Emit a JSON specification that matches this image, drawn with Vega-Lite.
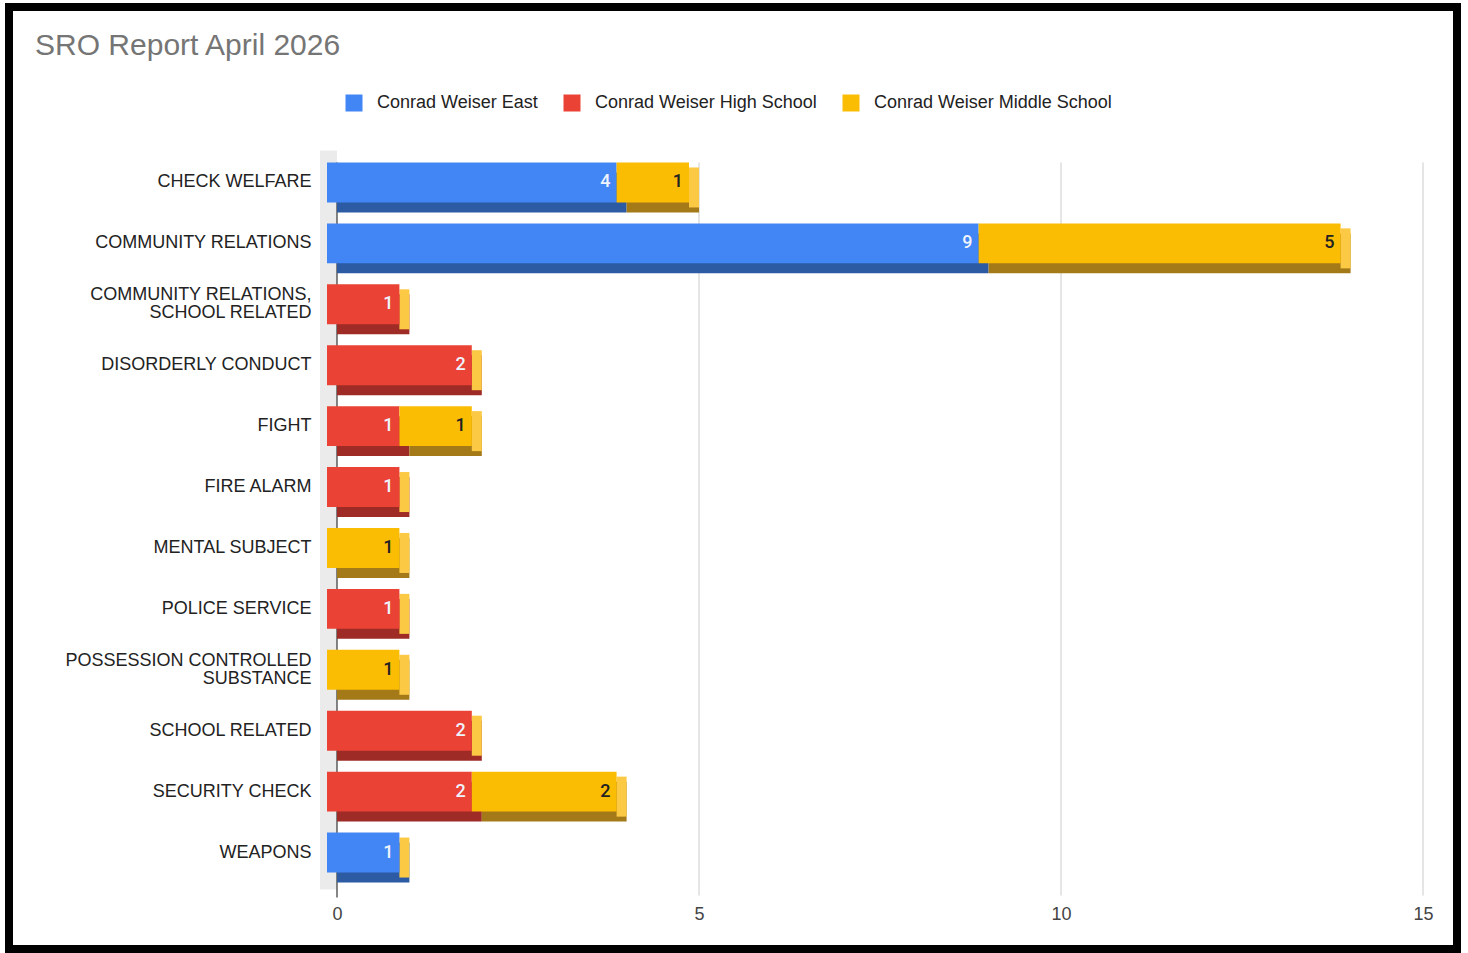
{
  "$schema": "https://vega.github.io/schema/vega-lite/v6.json",
  "width": 1448,
  "height": 942,
  "autosize": {"type": "none"},
  "padding": {"left": 9, "top": 7, "right": 11, "bottom": 4},
  "background": "white",
  "config": {
    "view": {"stroke": "#000000", "strokeWidth": 8},
    "font": "Liberation Sans",
    "legend": {
      "orient": "none", "legendX": 336, "legendY": 87, "direction": "horizontal",
      "title": null, "symbolType": "square", "symbolSize": 289, "symbolStrokeWidth": 0,
      "labelFontSize": 18, "labelFont": "Liberation Sans", "labelColor": "#222222",
      "labelOffset": 14, "columnPadding": 25, "padding": 0, "labelLimit": 400
    }
  },
  "title": {
    "text": "SRO Report April 2026", "anchor": "start", "frame": "group", "orient": "top",
    "offset": -54, "dx": 26, "fontSize": 30, "fontWeight": "normal", "color": "#757575",
    "font": "Liberation Sans"
  },
  "datasets": {
    "counts": [
      {"incident": "CHECK WELFARE", "school": "Conrad Weiser East", "count": 4},
      {"incident": "CHECK WELFARE", "school": "Conrad Weiser Middle School", "count": 1},
      {"incident": "COMMUNITY RELATIONS", "school": "Conrad Weiser East", "count": 9},
      {"incident": "COMMUNITY RELATIONS", "school": "Conrad Weiser Middle School", "count": 5},
      {"incident": "COMMUNITY RELATIONS, SCHOOL RELATED", "school": "Conrad Weiser High School", "count": 1},
      {"incident": "DISORDERLY CONDUCT", "school": "Conrad Weiser High School", "count": 2},
      {"incident": "FIGHT", "school": "Conrad Weiser High School", "count": 1},
      {"incident": "FIGHT", "school": "Conrad Weiser Middle School", "count": 1},
      {"incident": "FIRE ALARM", "school": "Conrad Weiser High School", "count": 1},
      {"incident": "MENTAL SUBJECT", "school": "Conrad Weiser Middle School", "count": 1},
      {"incident": "POLICE SERVICE", "school": "Conrad Weiser High School", "count": 1},
      {"incident": "POSSESSION CONTROLLED SUBSTANCE", "school": "Conrad Weiser Middle School", "count": 1},
      {"incident": "SCHOOL RELATED", "school": "Conrad Weiser High School", "count": 2},
      {"incident": "SECURITY CHECK", "school": "Conrad Weiser High School", "count": 2},
      {"incident": "SECURITY CHECK", "school": "Conrad Weiser Middle School", "count": 2},
      {"incident": "WEAPONS", "school": "Conrad Weiser East", "count": 1}
    ]
  },
  "data": {"name": "counts"},
  "resolve": {"scale": {"color": "independent"}},
  "layer": [
    {
      "data": {"values": [{}]},
      "mark": {"type": "rule", "color": "#ebebeb", "strokeWidth": 17, "xOffset": -8.5, "yOffset": -42, "y2Offset": 27},
      "encoding": {
        "x": {"datum": 0, "type": "quantitative", "title": null},
        "y": {"datum": "CHECK WELFARE", "type": "nominal", "title": null},
        "y2": {"datum": "WEAPONS"}
      }
    },
    {
      "data": {"values": [{}]},
      "mark": {"type": "rule", "color": "#cccccc", "strokeWidth": 1, "yOffset": -30, "y2Offset": 33},
      "encoding": {
        "x": {"datum": 5, "type": "quantitative", "title": null},
        "y": {"datum": "CHECK WELFARE", "type": "nominal", "title": null},
        "y2": {"datum": "WEAPONS"}
      }
    },
    {
      "data": {"values": [{}]},
      "mark": {"type": "rule", "color": "#cccccc", "strokeWidth": 1, "yOffset": -30, "y2Offset": 33},
      "encoding": {
        "x": {"datum": 10, "type": "quantitative", "title": null},
        "y": {"datum": "CHECK WELFARE", "type": "nominal", "title": null},
        "y2": {"datum": "WEAPONS"}
      }
    },
    {
      "data": {"values": [{}]},
      "mark": {"type": "rule", "color": "#cccccc", "strokeWidth": 1, "yOffset": -30, "y2Offset": 33},
      "encoding": {
        "x": {"datum": 15, "type": "quantitative", "title": null},
        "y": {"datum": "CHECK WELFARE", "type": "nominal", "title": null},
        "y2": {"datum": "WEAPONS"}
      }
    },
    {
      "data": {"values": [{}]},
      "mark": {"type": "rule", "color": "#444444", "strokeWidth": 1.3, "yOffset": -30, "y2Offset": 35},
      "encoding": {
        "x": {"datum": 0, "type": "quantitative", "title": null},
        "y": {"datum": "CHECK WELFARE", "type": "nominal", "title": null},
        "y2": {"datum": "WEAPONS"}
      }
    },
    {
      "mark": {"type": "bar"},
      "encoding": {
        "x": {
          "field": "count", "type": "quantitative", "stack": "zero", "title": null,
          "scale": {"domain": [0, 15], "range": [328, 1414], "nice": false},
          "axis": {
            "orient": "bottom", "offset": -56, "values": [0, 5, 10, 15], "grid": false,
            "domain": false, "ticks": false, "labelFontSize": 18, "labelColor": "#444444",
            "labelPadding": 12, "title": null, "labelFont": "Liberation Sans", "format": "d",
            "labelFlush": false
          }
        },
        "y": {
          "field": "incident", "type": "nominal", "title": null,
          "scale": {
            "domain": ["CHECK WELFARE", "COMMUNITY RELATIONS", "COMMUNITY RELATIONS, SCHOOL RELATED", "DISORDERLY CONDUCT", "FIGHT", "FIRE ALARM", "MENTAL SUBJECT", "POLICE SERVICE", "POSSESSION CONTROLLED SUBSTANCE", "SCHOOL RELATED", "SECURITY CHECK", "WEAPONS"],
            "range": [155, 886], "paddingInner": 0.3434, "paddingOuter": 0.1717
          },
          "axis": {
            "orient": "left", "offset": -302, "labelPadding": 0, "domain": false, "ticks": false,
            "grid": false, "title": null, "labelFontSize": 18, "labelColor": "#222222",
            "labelOffset": {"condition": {"test": "datum.value == 'COMMUNITY RELATIONS, SCHOOL RELATED' || datum.value == 'POSSESSION CONTROLLED SUBSTANCE'", "value": -19}, "value": -10},
            "labelLineHeight": 18, "labelLimit": 400, "labelFont": "Liberation Sans",
            "labelExpr": "datum.label == 'COMMUNITY RELATIONS, SCHOOL RELATED' ? ['COMMUNITY RELATIONS,', 'SCHOOL RELATED'] : datum.label == 'POSSESSION CONTROLLED SUBSTANCE' ? ['POSSESSION CONTROLLED', 'SUBSTANCE'] : datum.label"
          }
        },
        "order": {"field": "school", "sort": "ascending"},
        "color": {
          "field": "school", "type": "nominal",
          "scale": {"domain": ["Conrad Weiser East", "Conrad Weiser High School", "Conrad Weiser Middle School"], "range": ["#2d5ba3", "#9e2b26", "#a47a18"]},
          "legend": null
        }
      }
    },
    {
      "transform": [{"aggregate": [{"op": "sum", "field": "count", "as": "total"}], "groupby": ["incident"]}],
      "mark": {"type": "bar", "color": "#fcc944", "xOffset": -10, "x2Offset": 0, "yOffset": -5},
      "encoding": {
        "x": {"field": "total", "type": "quantitative", "title": null},
        "x2": {"field": "total"},
        "y": {"field": "incident", "type": "nominal", "title": null}
      }
    },
    {
      "mark": {"type": "bar", "xOffset": -10, "x2Offset": -10, "yOffset": -10},
      "encoding": {
        "x": {"field": "count", "type": "quantitative", "stack": "zero", "title": null},
        "y": {"field": "incident", "type": "nominal", "title": null},
        "order": {"field": "school", "sort": "ascending"},
        "color": {
          "field": "school", "type": "nominal",
          "scale": {"domain": ["Conrad Weiser East", "Conrad Weiser High School", "Conrad Weiser Middle School"], "range": ["#4285f4", "#ea4335", "#fbbc04"]}
        }
      }
    },
    {
      "mark": {"type": "text", "align": "right", "baseline": "middle", "dx": -16, "yOffset": -10, "fontSize": 18, "font": "Roboto", "fontWeight": 500},
      "encoding": {
        "x": {"field": "count", "type": "quantitative", "stack": "zero", "title": null},
        "y": {"field": "incident", "type": "nominal", "title": null},
        "detail": {"field": "school", "type": "nominal"},
        "order": {"field": "school", "sort": "ascending"},
        "text": {"field": "count", "type": "quantitative"},
        "color": {"condition": {"test": "datum.school == 'Conrad Weiser Middle School'", "value": "#222222"}, "value": "#eef3fc"}
      }
    }
  ]
}
